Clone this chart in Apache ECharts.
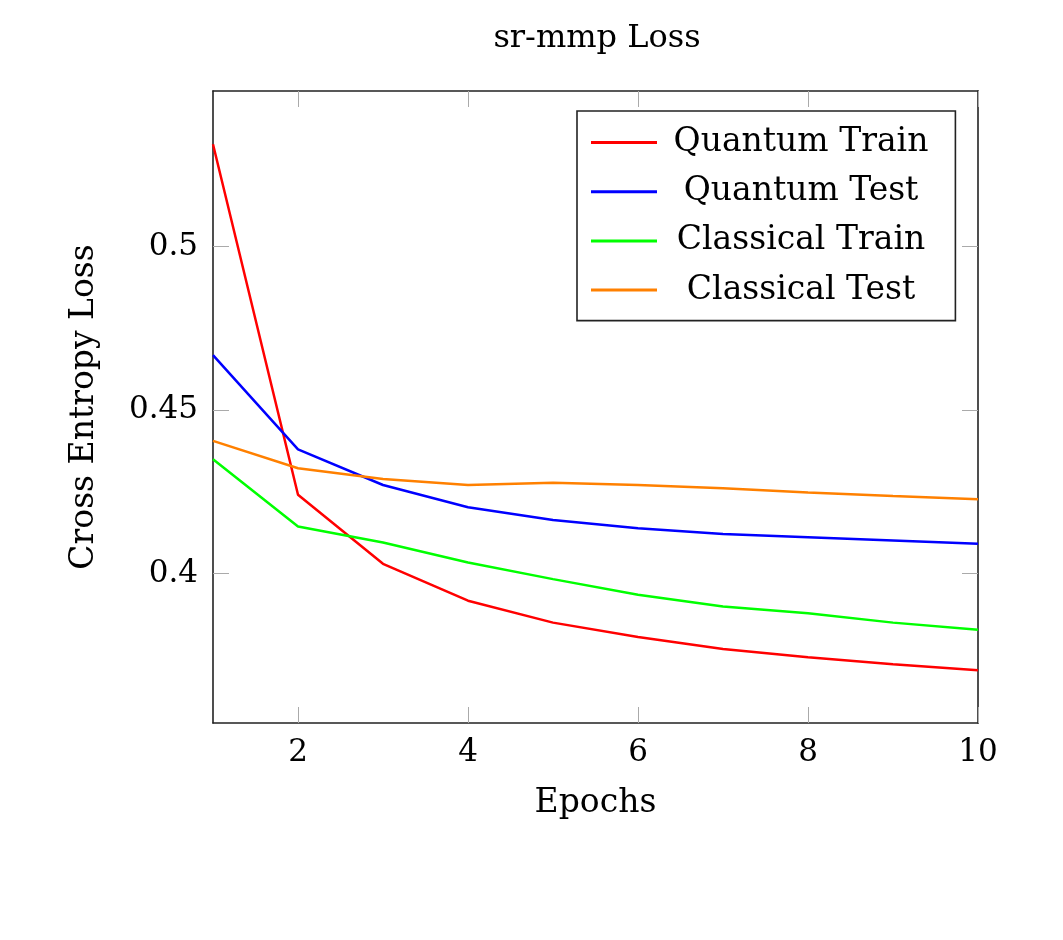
<!DOCTYPE html>
<html>
<head>
<meta charset="utf-8">
<title>sr-mmp Loss</title>
<script src="https://cdn.jsdelivr.net/npm/echarts@6/dist/echarts.min.js"></script>
<style>
  html, body { margin: 0; padding: 0; background: #fff; }
  #chart { width: 1063px; height: 940px; }
</style>
</head>
<body>
<div id="chart"></div>
<script>
// 数据
var epochs = [1, 2, 3, 4, 5, 6, 7, 8, 9, 10];
var quantumTrain = [0.5313, 0.4241, 0.4030, 0.3917, 0.3850, 0.3806, 0.3769, 0.3744, 0.3723, 0.3704];
var quantumTest = [0.4668, 0.4380, 0.4271, 0.4203, 0.4164, 0.4139, 0.4121, 0.4111, 0.4101, 0.4091];
var classicalTrain = [0.4350, 0.4144, 0.4095, 0.4034, 0.3983, 0.3935, 0.3899, 0.3879, 0.3850, 0.3828];
var classicalTest = [0.4406, 0.4322, 0.4289, 0.4271, 0.4278, 0.4271, 0.4261, 0.4248, 0.4237, 0.4227];

var xTicks = [2, 4, 6, 8, 10];
var yTicks = [0.4, 0.45, 0.5];

var seriesNames = ['Quantum Train', 'Quantum Test', 'Classical Train', 'Classical Test'];
var seriesColors = ['#ff0000', '#0000ff', '#00ff00', '#ff8000'];
var seriesValues = [quantumTrain, quantumTest, classicalTrain, classicalTest];

var FONT = 'DejaVu Serif';

var chart = echarts.init(document.getElementById('chart'));

// 把 x 和 y 配成点
function pairUp(values) {
    return epochs.map(function(x, i) {
        return [x, values[i]];
    });
}

var series = seriesNames.map(function(name, i) {
    return {
        name: name,
        type: 'line',
        data: pairUp(seriesValues[i]),
        symbol: 'none',
        xAxisIndex: 0,
        yAxisIndex: 0,
        lineStyle: { color: seriesColors[i], width: 2.5 },
        itemStyle: { color: seriesColors[i] }
    };
});

// 边框轴的通用样式
function frameAxis(extra) {
    var base = {
        axisLine: { show: true, lineStyle: { color: '#222', width: 1.6 } },
        splitLine: { show: false }
    };
    return Object.assign(base, extra);
}

function innerTicks(values) {
    return { show: true, inside: true, length: 16, customValues: values, lineStyle: { color: '#aaa', width: 1 } };
}

var yMin = 0.3543, yMax = 0.5476;

chart.setOption({
    animation: false,
    backgroundColor: '#fff',
    title: {
        text: 'sr-mmp Loss',
        left: 592,
        top: 18,
        textAlign: 'center',
        textStyle: { fontFamily: FONT, fontSize: 32, fontWeight: 'normal', color: '#000' }
    },
    grid: { left: 213, right: 85, top: 91, bottom: 217, containLabel: false },
    legend: {
        orient: 'vertical',
        left: 577,
        top: 111,
        data: seriesNames,
        icon: 'rect',
        itemWidth: 66,
        itemHeight: 3,
        itemGap: 16.2,
        padding: [15, 27, 14, 14],
        borderColor: '#222',
        borderWidth: 1.6,
        backgroundColor: '#fff',
        selectedMode: false,
        formatter: function(name) { return '{t|' + name + '}'; },
        textStyle: {
            fontFamily: FONT,
            fontSize: 33,
            color: '#000',
            rich: {
                t: { fontFamily: FONT, fontSize: 33, width: 278, align: 'center', color: '#000' }
            }
        }
    },
    xAxis: [
        frameAxis({
            type: 'value',
            position: 'bottom',
            min: 1,
            max: 10,
            name: 'Epochs',
            nameLocation: 'middle',
            nameGap: 64,
            nameTextStyle: { fontFamily: FONT, fontSize: 33, color: '#000' },
            axisTick: innerTicks(xTicks),
            axisLabel: { customValues: xTicks, margin: 14, fontFamily: FONT, fontSize: 31, color: '#000' }
        }),
        frameAxis({
            type: 'value',
            position: 'top',
            min: 1,
            max: 10,
            axisTick: innerTicks(xTicks),
            axisLabel: { show: false }
        })
    ],
    yAxis: [
        frameAxis({
            type: 'value',
            position: 'left',
            min: yMin,
            max: yMax,
            name: 'Cross Entropy Loss',
            nameLocation: 'middle',
            nameGap: 112,
            nameRotate: 90,
            nameTextStyle: { fontFamily: FONT, fontSize: 33, color: '#000' },
            axisTick: innerTicks(yTicks),
            axisLabel: { customValues: yTicks, margin: 15, fontFamily: FONT, fontSize: 31, color: '#000' }
        }),
        frameAxis({
            type: 'value',
            position: 'right',
            min: yMin,
            max: yMax,
            axisTick: innerTicks(yTicks),
            axisLabel: { show: false }
        })
    ],
    series: series
});
</script>
</body>
</html>
